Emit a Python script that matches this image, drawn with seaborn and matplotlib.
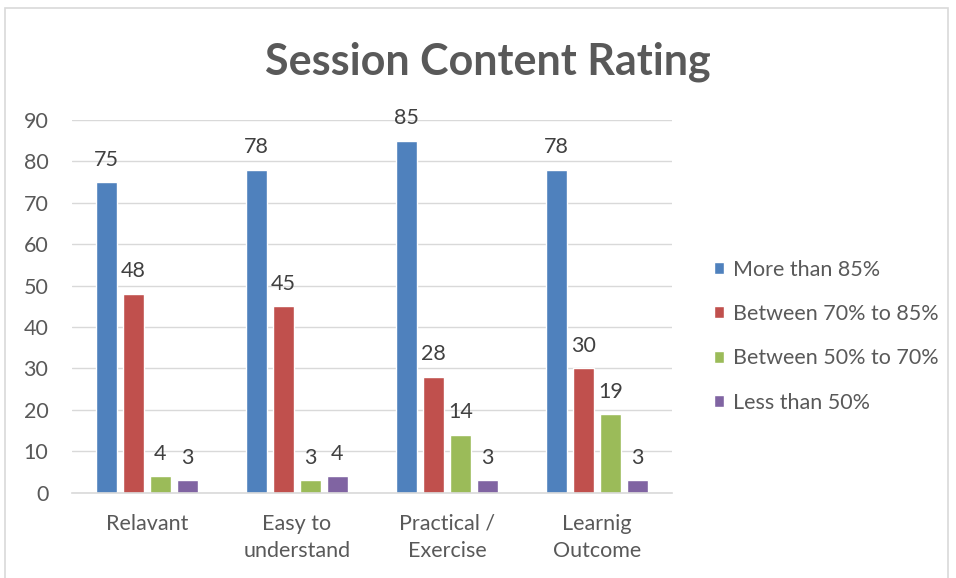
import matplotlib
matplotlib.use("Agg")
import matplotlib.pyplot as plt
from matplotlib.patches import Rectangle
import pandas as pd
import seaborn as sns

categories = ["Relavant", "Easy to\nunderstand", "Practical /\nExercise", "Learnig\nOutcome"]
series = ["More than 85%", "Between 70% to 85%", "Between 50% to 70%", "Less than 50%"]
more_85 = [75, 78, 85, 78]
between_70_85 = [48, 45, 28, 30]
between_50_70 = [4, 3, 14, 19]
less_50 = [3, 4, 3, 3]
yticks = [0, 10, 20, 30, 40, 50, 60, 70, 80, 90]

colors = ["#4F81BD", "#C0504D", "#9BBB59", "#8064A2"]
text_col = "#595959"

rows = []
for name, vals in zip(series, [more_85, between_70_85, between_50_70, less_50]):
    for cat, v in zip(categories, vals):
        rows.append({"category": cat, "series": name, "value": v})
df = pd.DataFrame(rows)

sns.set_style("white")
plt.rcParams["font.family"] = ["Lato", "DejaVu Sans"]

fig = plt.figure(figsize=(9.56, 5.78), dpi=100)
ax = fig.add_axes([0.0753, 0.1476, 0.6276, 0.6448])

sns.barplot(data=df, x="category", y="value", hue="series", order=categories,
            hue_order=series, palette=colors, width=0.72, gap=0.2,
            saturation=1, ax=ax, legend=True)

for cont in ax.containers:
    ax.bar_label(cont, padding=9, fontsize=15.5, color="#404040")

ax.set_ylim(0, 90)
ax.set_yticks(yticks)
ax.set_xlim(-0.5, 3.5)
ax.yaxis.grid(True, color="#D9D9D9", linewidth=1)
ax.set_axisbelow(True)
for s in ["top", "right", "left"]:
    ax.spines[s].set_visible(False)
ax.spines["bottom"].set_color("#D9D9D9")
ax.spines["bottom"].set_linewidth(1.2)
ax.tick_params(axis="y", length=0, pad=17, labelsize=15.5, labelcolor=text_col)
ax.tick_params(axis="x", length=0, pad=15, labelsize=15.5, labelcolor=text_col)
for lbl in ax.get_xticklabels():
    lbl.set_linespacing(1.45)
ax.set_xlabel("")
ax.set_ylabel("")

handles, labels = ax.get_legend_handles_labels()
ax.legend(handles, labels, loc="center left", bbox_to_anchor=(1.037, 0.42),
          frameon=False, fontsize=15.5, labelcolor=text_col,
          handlelength=0.5, handleheight=0.5, handletextpad=0.4,
          labelspacing=1.13)

fig.text(0.51, 0.893, "Session Content Rating", ha="center", va="center",
         fontsize=31, fontweight="bold", color=text_col)

fig.patches.append(Rectangle((0.005, -0.01), 0.987, 0.997, transform=fig.transFigure,
                             fill=False, edgecolor="#D9D9D9", linewidth=1.2))

fig.savefig("out.png", dpi=100)
